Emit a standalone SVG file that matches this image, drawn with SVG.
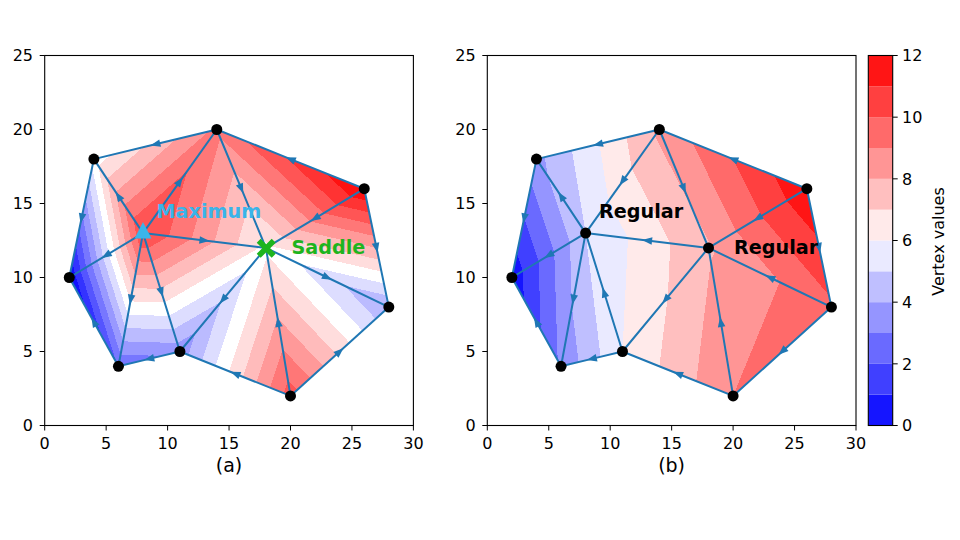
<svg xmlns="http://www.w3.org/2000/svg" width="960" height="540" viewBox="0 0 960 540">
<style>
text{font-family:"DejaVu Sans","Liberation Sans",sans-serif;fill:#000}
.tk{font-size:16px}
.tx{text-anchor:middle}
.ty{text-anchor:end}
.edge{fill:none;stroke:#1f77b4;stroke-width:2;marker-mid:url(#arr)}
.spine{fill:none;stroke:#000;stroke-width:1.1}
.tick{fill:none;stroke:#000;stroke-width:1}
.lbl{font-size:19.2px;font-weight:bold}
.dot{fill:#000}
</style>
<defs>
<marker id="arr" markerUnits="userSpaceOnUse" markerWidth="12" markerHeight="10" viewBox="-6 -5 12 10" refX="0" refY="0" orient="auto"><path d="M5,0 L-5,-3.8 L-5,3.8 Z" fill="#1f77b4"/></marker>
<linearGradient id="gL">
<stop offset="0" stop-color="#1111ff"/><stop offset=".0667" stop-color="#1111ff"/>
<stop offset=".0667" stop-color="#3333ff"/><stop offset=".1333" stop-color="#3333ff"/>
<stop offset=".1333" stop-color="#5555ff"/><stop offset=".2" stop-color="#5555ff"/>
<stop offset=".2" stop-color="#7777ff"/><stop offset=".2667" stop-color="#7777ff"/>
<stop offset=".2667" stop-color="#9999ff"/><stop offset=".3333" stop-color="#9999ff"/>
<stop offset=".3333" stop-color="#bbbbff"/><stop offset=".4" stop-color="#bbbbff"/>
<stop offset=".4" stop-color="#ddddff"/><stop offset=".4667" stop-color="#ddddff"/>
<stop offset=".4667" stop-color="#ffffff"/><stop offset=".5333" stop-color="#ffffff"/>
<stop offset=".5333" stop-color="#ffdddd"/><stop offset=".6" stop-color="#ffdddd"/>
<stop offset=".6" stop-color="#ffbbbb"/><stop offset=".6667" stop-color="#ffbbbb"/>
<stop offset=".6667" stop-color="#ff9999"/><stop offset=".7333" stop-color="#ff9999"/>
<stop offset=".7333" stop-color="#ff7777"/><stop offset=".8" stop-color="#ff7777"/>
<stop offset=".8" stop-color="#ff5555"/><stop offset=".8667" stop-color="#ff5555"/>
<stop offset=".8667" stop-color="#ff3333"/><stop offset=".9333" stop-color="#ff3333"/>
<stop offset=".9333" stop-color="#ff1111"/><stop offset="1" stop-color="#ff1111"/>
</linearGradient>
<linearGradient id="gR">
<stop offset="0" stop-color="#1515ff"/><stop offset=".0833" stop-color="#1515ff"/>
<stop offset=".0833" stop-color="#4040ff"/><stop offset=".1667" stop-color="#4040ff"/>
<stop offset=".1667" stop-color="#6a6aff"/><stop offset=".25" stop-color="#6a6aff"/>
<stop offset=".25" stop-color="#9595ff"/><stop offset=".3333" stop-color="#9595ff"/>
<stop offset=".3333" stop-color="#bfbfff"/><stop offset=".4167" stop-color="#bfbfff"/>
<stop offset=".4167" stop-color="#eaeaff"/><stop offset=".5" stop-color="#eaeaff"/>
<stop offset=".5" stop-color="#ffeaea"/><stop offset=".5833" stop-color="#ffeaea"/>
<stop offset=".5833" stop-color="#ffbfbf"/><stop offset=".6667" stop-color="#ffbfbf"/>
<stop offset=".6667" stop-color="#ff9595"/><stop offset=".75" stop-color="#ff9595"/>
<stop offset=".75" stop-color="#ff6a6a"/><stop offset=".8333" stop-color="#ff6a6a"/>
<stop offset=".8333" stop-color="#ff4040"/><stop offset=".9167" stop-color="#ff4040"/>
<stop offset=".9167" stop-color="#ff1515"/><stop offset="1" stop-color="#ff1515"/>
</linearGradient>
<linearGradient id="gL1" href="#gL" gradientUnits="userSpaceOnUse" x1="2" y1="10" x2="9.261" y2="11.650"/>
<linearGradient id="gL2" href="#gL" gradientUnits="userSpaceOnUse" x1="-1.0162" y1="24.8974" x2="9.0163" y2="11.1026"/>
<linearGradient id="gL3" href="#gL" gradientUnits="userSpaceOnUse" x1="30.6125" y1="5.2715" x2="4.7697" y2="14.1041"/>
<linearGradient id="gL4" href="#gL" gradientUnits="userSpaceOnUse" x1="6.3626" y1="10.1061" x2="16.5458" y2="23.2979"/>
<linearGradient id="gL5" href="#gL" gradientUnits="userSpaceOnUse" x1="16.9147" y1="6.3020" x2="19.0153" y2="17.3305"/>
<linearGradient id="gL6" href="#gL" gradientUnits="userSpaceOnUse" x1="24.6693" y1="19.6014" x2="11.7610" y2="4.8889"/>
<linearGradient id="gL7" href="#gL" gradientUnits="userSpaceOnUse" x1="9.5981" y1="15.3231" x2="25.8599" y2="8.8913"/>
<linearGradient id="gL8" href="#gL" gradientUnits="userSpaceOnUse" x1="21.2611" y1="5.2040" x2="14.9493" y2="18.3576"/>
<linearGradient id="gL9" href="#gL" gradientUnits="userSpaceOnUse" x1="10.8958" y1="1.0422" x2="11.2529" y2="14.6118"/>
<linearGradient id="gL10" href="#gL" gradientUnits="userSpaceOnUse" x1="1.7655" y1="10.6123" x2="8.8906" y2="13.3411"/>
<linearGradient id="gR1" href="#gR" gradientUnits="userSpaceOnUse" x1="1.60397" y1="9.84101" x2="17.4452" y2="16.2005"/>
<linearGradient id="gR2" href="#gR" gradientUnits="userSpaceOnUse" x1="-4.22358" y1="16.36186" x2="22.4475" y2="21.6747"/>
<linearGradient id="gR3" href="#gR" gradientUnits="userSpaceOnUse" x1="-3.6669" y1="5.75145" x2="24.3337" y2="23.1480"/>
<linearGradient id="gR4" href="#gR" gradientUnits="userSpaceOnUse" x1="-2.0784" y1="10.35294" x2="21.4510" y2="24.4706"/>
<linearGradient id="gR5" href="#gR" gradientUnits="userSpaceOnUse" x1="6.0542" y1="-0.2548" x2="24.1998" y2="18.3601"/>
<linearGradient id="gR6" href="#gR" gradientUnits="userSpaceOnUse" x1="-22.0412" y1="31.7459" x2="38.7809" y2="1.7521"/>
<linearGradient id="gR7" href="#gR" gradientUnits="userSpaceOnUse" x1="-6.3348" y1="15.5545" x2="30.6295" y2="10.1552"/>
<linearGradient id="gR8" href="#gR" gradientUnits="userSpaceOnUse" x1="-9.3073" y1="13.5991" x2="32.1721" y2="11.1701"/>
<linearGradient id="gR9" href="#gR" gradientUnits="userSpaceOnUse" x1="0.2023" y1="3.43112" x2="21.7976" y2="6.56888"/>
<linearGradient id="gR10" href="#gR" gradientUnits="userSpaceOnUse" x1="1.5053" y1="12.75358" x2="17.0926" y2="13.3450"/>
</defs>
<rect width="960" height="540" fill="#fff"/>

<!-- left fill -->
<g id="fill-a" transform="matrix(12.29 0 0 -14.8 44.7 425.5)">
<polygon points="2,10 4,18 8,13" fill="url(#gL1)"/>
<polygon points="4,18 14,20 8,13" fill="url(#gL2)"/>
<polygon points="8,13 14,20 18,12" fill="url(#gL3)"/>
<polygon points="14,20 26,16 18,12" fill="url(#gL4)"/>
<polygon points="18,12 26,16 28,8" fill="url(#gL5)"/>
<polygon points="18,12 28,8 20,2" fill="url(#gL6)"/>
<polygon points="18,12 20,2 11,5" fill="url(#gL7)"/>
<polygon points="18,12 11,5 8,13" fill="url(#gL8)"/>
<polygon points="11,5 8,13 6,4" fill="url(#gL9)"/>
<polygon points="8,13 6,4 2,10" fill="url(#gL10)"/>
</g>
<!-- right fill -->
<g id="fill-b" transform="matrix(12.29 0 0 -14.8 487.3 425.5)">
<polygon points="2,10 4,18 8,13" fill="url(#gR1)"/>
<polygon points="4,18 14,20 8,13" fill="url(#gR2)"/>
<polygon points="8,13 14,20 18,12" fill="url(#gR3)"/>
<polygon points="14,20 26,16 18,12" fill="url(#gR4)"/>
<polygon points="18,12 26,16 28,8" fill="url(#gR5)"/>
<polygon points="18,12 28,8 20,2" fill="url(#gR6)"/>
<polygon points="18,12 20,2 11,5" fill="url(#gR7)"/>
<polygon points="18,12 11,5 8,13" fill="url(#gR8)"/>
<polygon points="11,5 8,13 6,4" fill="url(#gR9)"/>
<polygon points="8,13 6,4 2,10" fill="url(#gR10)"/>
</g>

<!-- axes (a) -->
<g id="axes-a">
<rect class="spine" x="44.7" y="55.5" width="368.7" height="370"/>
<path class="tick" d="M44.7,425.5v5M106.15,425.5v5M167.6,425.5v5M229.05,425.5v5M290.5,425.5v5M351.95,425.5v5M413.4,425.5v5M44.7,425.5h-5M44.7,351.5h-5M44.7,277.5h-5M44.7,203.5h-5M44.7,129.5h-5M44.7,55.5h-5"/>
<g class="tk tx">
<text x="44.7" y="449.3">0</text><text x="106.15" y="449.3">5</text><text x="167.6" y="449.3">10</text><text x="229.05" y="449.3">15</text><text x="290.5" y="449.3">20</text><text x="351.95" y="449.3">25</text><text x="413.4" y="449.3">30</text>
</g>
<g class="tk ty">
<text x="33" y="431.3">0</text><text x="33" y="357.3">5</text><text x="33" y="283.3">10</text><text x="33" y="209.3">15</text><text x="33" y="135.3">20</text><text x="33" y="61.3">25</text>
</g>
<text x="229" y="471.5" class="tx" style="font-size:19px">(a)</text>
</g>

<!-- axes (b) -->
<g id="axes-b">
<rect class="spine" x="487.3" y="55.5" width="368.7" height="370"/>
<path class="tick" d="M487.3,425.5v5M548.75,425.5v5M610.2,425.5v5M671.65,425.5v5M733.1,425.5v5M794.55,425.5v5M856,425.5v5M487.3,425.5h-5M487.3,351.5h-5M487.3,277.5h-5M487.3,203.5h-5M487.3,129.5h-5M487.3,55.5h-5"/>
<g class="tk tx">
<text x="487.3" y="449.3">0</text><text x="548.75" y="449.3">5</text><text x="610.2" y="449.3">10</text><text x="671.65" y="449.3">15</text><text x="733.1" y="449.3">20</text><text x="794.55" y="449.3">25</text><text x="856" y="449.3">30</text>
</g>
<g class="tk ty">
<text x="475.6" y="431.3">0</text><text x="475.6" y="357.3">5</text><text x="475.6" y="283.3">10</text><text x="475.6" y="209.3">15</text><text x="475.6" y="135.3">20</text><text x="475.6" y="61.3">25</text>
</g>
<text x="671.6" y="471.5" class="tx" style="font-size:19px">(b)</text>
</g>

<!-- connectors -->
<g id="connectors">
<g id="edges-a">
<path class="edge" d="M93.86,159.1 L81.57,218.3 L69.28,277.5"/>
<path class="edge" d="M216.76,129.5 L155.31,144.3 L93.86,159.1"/>
<path class="edge" d="M364.24,188.7 L290.5,159.1 L216.76,129.5"/>
<path class="edge" d="M364.24,188.7 L376.53,247.9 L388.82,307.1"/>
<path class="edge" d="M290.5,395.9 L339.66,351.5 L388.82,307.1"/>
<path class="edge" d="M290.5,395.9 L235.2,373.7 L179.89,351.5"/>
<path class="edge" d="M179.89,351.5 L149.17,358.9 L118.44,366.3"/>
<path class="edge" d="M118.44,366.3 L93.86,321.9 L69.28,277.5"/>
<path class="edge" d="M143.02,233.1 L106.15,255.3 L69.28,277.5"/>
<path class="edge" d="M143.02,233.1 L118.44,196.1 L93.86,159.1"/>
<path class="edge" d="M143.02,233.1 L179.89,181.3 L216.76,129.5"/>
<path class="edge" d="M143.02,233.1 L130.73,299.7 L118.44,366.3"/>
<path class="edge" d="M143.02,233.1 L161.46,292.3 L179.89,351.5"/>
<path class="edge" d="M143.02,233.1 L204.47,240.5 L265.92,247.9"/>
<path class="edge" d="M216.76,129.5 L241.34,188.7 L265.92,247.9"/>
<path class="edge" d="M364.24,188.7 L315.08,218.3 L265.92,247.9"/>
<path class="edge" d="M265.92,247.9 L327.37,277.5 L388.82,307.1"/>
<path class="edge" d="M290.5,395.9 L278.21,321.9 L265.92,247.9"/>
<path class="edge" d="M265.92,247.9 L222.91,299.7 L179.89,351.5"/>
</g>
<g id="edges-b">
<path class="edge" d="M536.46,159.1 L524.17,218.3 L511.88,277.5"/>
<path class="edge" d="M659.36,129.5 L597.91,144.3 L536.46,159.1"/>
<path class="edge" d="M806.84,188.7 L733.1,159.1 L659.36,129.5"/>
<path class="edge" d="M806.84,188.7 L819.13,247.9 L831.42,307.1"/>
<path class="edge" d="M831.42,307.1 L782.26,351.5 L733.1,395.9"/>
<path class="edge" d="M733.1,395.9 L677.8,373.7 L622.49,351.5"/>
<path class="edge" d="M622.49,351.5 L591.77,358.9 L561.04,366.3"/>
<path class="edge" d="M561.04,366.3 L536.46,321.9 L511.88,277.5"/>
<path class="edge" d="M585.62,233.1 L548.75,255.3 L511.88,277.5"/>
<path class="edge" d="M585.62,233.1 L561.04,196.1 L536.46,159.1"/>
<path class="edge" d="M659.36,129.5 L622.49,181.3 L585.62,233.1"/>
<path class="edge" d="M585.62,233.1 L573.33,299.7 L561.04,366.3"/>
<path class="edge" d="M622.49,351.5 L604.06,292.3 L585.62,233.1"/>
<path class="edge" d="M708.52,247.9 L647.07,240.5 L585.62,233.1"/>
<path class="edge" d="M659.36,129.5 L683.94,188.7 L708.52,247.9"/>
<path class="edge" d="M806.84,188.7 L757.68,218.3 L708.52,247.9"/>
<path class="edge" d="M831.42,307.1 L769.97,277.5 L708.52,247.9"/>
<path class="edge" d="M733.1,395.9 L720.81,321.9 L708.52,247.9"/>
<path class="edge" d="M708.52,247.9 L665.51,299.7 L622.49,351.5"/>
</g>
</g>

<!-- nodes (a) -->
<g id="nodes-a">
<g id="a-v1"><circle class="dot" cx="69.28" cy="277.5" r="5.5"/></g>
<g id="a-v2"><circle class="dot" cx="93.86" cy="159.1" r="5.5"/></g>
<g id="a-v3"><circle class="dot" cx="118.44" cy="366.3" r="5.5"/></g>
<g id="a-v4-maximum"><polygon points="143,222 134.5,238.5 151.5,238.5" fill="#3ab4ea"/></g>
<g id="a-v5"><circle class="dot" cx="179.89" cy="351.5" r="5.5"/></g>
<g id="a-v6"><circle class="dot" cx="216.76" cy="129.5" r="5.5"/></g>
<g id="a-v7-saddle"><path transform="translate(266.2,248.3) rotate(45)" d="M2.8,-10.6 H-2.8 V-2.8 H-10.6 V2.8 H-2.8 V10.6 H2.8 V2.8 H10.6 V-2.8 H2.8 Z" fill="#1eb41e"/></g>
<g id="a-v8"><circle class="dot" cx="290.5" cy="395.9" r="5.5"/></g>
<g id="a-v9"><circle class="dot" cx="364.24" cy="188.7" r="5.5"/></g>
<g id="a-v10"><circle class="dot" cx="388.82" cy="307.1" r="5.5"/></g>
<text class="lbl" x="156.5" y="217.5" style="fill:#3ab4ea">Maximum</text>
<text class="lbl" x="291.5" y="254" style="fill:#1eb41e">Saddle</text>
</g>

<!-- nodes (b) -->
<g id="nodes-b">
<g id="b-v1"><circle class="dot" cx="511.88" cy="277.5" r="5.5"/></g>
<g id="b-v2"><circle class="dot" cx="536.46" cy="159.1" r="5.5"/></g>
<g id="b-v3"><circle class="dot" cx="561.04" cy="366.3" r="5.5"/></g>
<g id="b-v4"><circle class="dot" cx="585.62" cy="233.1" r="5.5"/></g>
<g id="b-v5"><circle class="dot" cx="622.49" cy="351.5" r="5.5"/></g>
<g id="b-v6"><circle class="dot" cx="659.36" cy="129.5" r="5.5"/></g>
<g id="b-v7"><circle class="dot" cx="708.52" cy="247.9" r="5.5"/></g>
<g id="b-v8"><circle class="dot" cx="733.1" cy="395.9" r="5.5"/></g>
<g id="b-v9"><circle class="dot" cx="806.84" cy="188.7" r="5.5"/></g>
<g id="b-v10"><circle class="dot" cx="831.42" cy="307.1" r="5.5"/></g>
<text class="lbl" x="599" y="217.5">Regular</text>
<text class="lbl" x="734" y="254">Regular</text>
</g>

<!-- colorbar -->
<g id="colorbar">
<rect x="868.3" y="394.67" width="24.4" height="30.83" fill="#1515ff"/>
<rect x="868.3" y="363.83" width="24.4" height="30.84" fill="#4040ff"/>
<rect x="868.3" y="333" width="24.4" height="30.83" fill="#6a6aff"/>
<rect x="868.3" y="302.17" width="24.4" height="30.83" fill="#9595ff"/>
<rect x="868.3" y="271.33" width="24.4" height="30.84" fill="#bfbfff"/>
<rect x="868.3" y="240.5" width="24.4" height="30.83" fill="#eaeaff"/>
<rect x="868.3" y="209.67" width="24.4" height="30.83" fill="#ffeaea"/>
<rect x="868.3" y="178.83" width="24.4" height="30.84" fill="#ffbfbf"/>
<rect x="868.3" y="148" width="24.4" height="30.83" fill="#ff9595"/>
<rect x="868.3" y="117.17" width="24.4" height="30.83" fill="#ff6a6a"/>
<rect x="868.3" y="86.33" width="24.4" height="30.84" fill="#ff4040"/>
<rect x="868.3" y="55.5" width="24.4" height="30.83" fill="#ff1515"/>
<rect class="spine" x="868.3" y="55.5" width="24.4" height="370"/>
<path class="tick" d="M892.7,425.5h5M892.7,363.83h5M892.7,302.17h5M892.7,240.5h5M892.7,178.83h5M892.7,117.17h5M892.7,55.5h5"/>
<g class="tk">
<text x="902" y="431.3">0</text><text x="902" y="369.6">2</text><text x="902" y="308">4</text><text x="902" y="246.3">6</text><text x="902" y="184.6">8</text><text x="902" y="123">10</text><text x="902" y="61.3">12</text>
</g>
<text class="tk tx" transform="translate(944.4,241.5) rotate(-90)">Vertex values</text>
</g>
</svg>
